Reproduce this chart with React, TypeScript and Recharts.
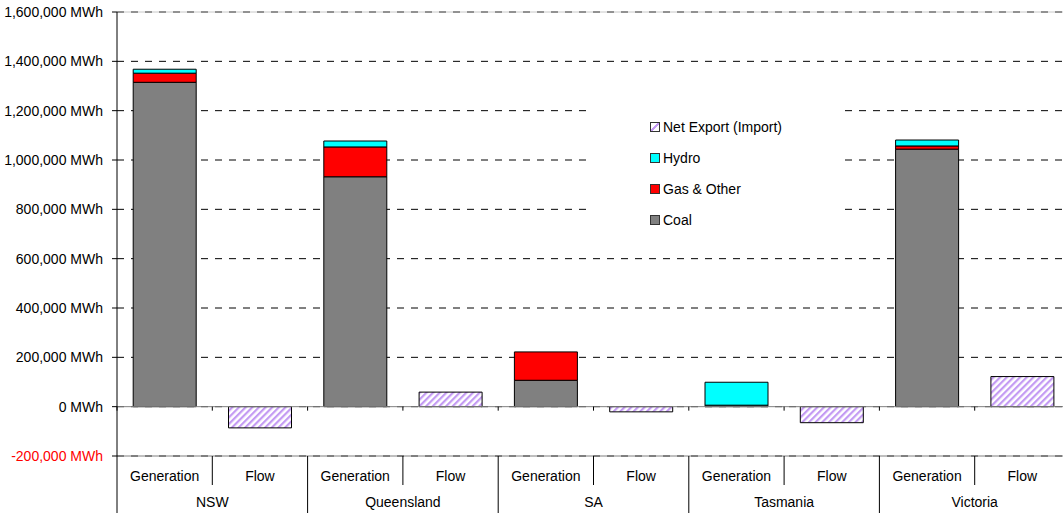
import { BarChart, Bar, XAxis, YAxis, CartesianGrid, Legend, ReferenceLine } from 'recharts'

const regions = ['NSW', 'Queensland', 'SA', 'Tasmania', 'Victoria']
const kinds = ['Generation', 'Flow']

// one value per column: Generation then Flow, for each region in turn
const coal = [1315000, 0, 932000, 0, 107000, 0, 6000, 0, 1044000, 0]
const gasOther = [37000, 0, 121000, 0, 115000, 0, 0, 0, 13000, 0]
const hydro = [16000, 0, 24000, 0, 0, 0, 93000, 0, 24000, 0]
const netExport = [0, -86000, 0, 59000, 0, -21000, 0, -65000, 0, 122000]

const yTicks = [-200000, 0, 200000, 400000, 600000, 800000, 1000000, 1200000, 1400000, 1600000]

const legendItems = [
  { name: 'Net Export (Import)', color: 'hatch' },
  { name: 'Hydro', color: '#00ffff' },
  { name: 'Gas & Other', color: '#ff0000' },
  { name: 'Coal', color: '#808080' },
]

const data = regions.flatMap((region, r) =>
  kinds.map((kind, k) => {
    const i = r * kinds.length + k
    return { region, kind, coal: coal[i], gas: gasOther[i], hydro: hydro[i], net: netExport[i] }
  })
)

const FONT = 'Arial, "Liberation Sans", sans-serif'
const CHART_W = 1070
const CHART_H = 513
const Y_AXIS_W = 117
const TOP = 12
const KIND_AXIS_H = 29
const REGION_AXIS_H = 28
const PLOT_H = CHART_H - TOP - KIND_AXIS_H - REGION_AXIS_H
const BAND = (CHART_W - Y_AXIS_W) / data.length
const REGION_W = BAND * kinds.length
const Y_MIN = yTicks[0]
const Y_MAX = yTicks[yTicks.length - 1]
const ZERO_ABOVE_BOTTOM = (PLOT_H * (0 - Y_MIN)) / (Y_MAX - Y_MIN)

const fmt = (v: number) => `${v.toLocaleString('en-US')} MWh`

const YTick = ({ x, y, payload }: any) => (
  <text
    x={x}
    y={y}
    dy={5}
    textAnchor="end"
    fontSize={14}
    fontFamily={FONT}
    fill={payload.value < 0 ? '#ff0000' : '#000'}
  >
    {fmt(payload.value)}
  </text>
)

const KindTick = (props: any) => {
  const { x, y, payload } = props
  const index = props.index ?? payload.index ?? 0
  const left = x - BAND / 2
  const zeroY = y - ZERO_ABOVE_BOTTOM
  return (
    <g>
      <line x1={left} x2={left} y1={zeroY} y2={zeroY + 4} stroke="#000" />
      {index % kinds.length !== 0 && <line x1={left} x2={left} y1={y} y2={y + KIND_AXIS_H} stroke="#000" />}
      <text x={x} y={y + 25} textAnchor="middle" fontSize={14} fontFamily={FONT} fill="#000">
        {payload.value}
      </text>
    </g>
  )
}

const RegionTick = ({ x, y, payload }: any) => {
  const left = x - REGION_W / 2
  return (
    <g>
      <line x1={left} x2={left} y1={y - KIND_AXIS_H} y2={y + REGION_AXIS_H} stroke="#000" />
      <text x={x} y={y + 22} textAnchor="middle" fontSize={14} fontFamily={FONT} fill="#000">
        {payload.value}
      </text>
    </g>
  )
}

const LegendBox = () => (
  <div
    style={{
      position: 'relative',
      width: 252,
      height: 145,
      background: '#fff',
      fontFamily: FONT,
      fontSize: 14,
      color: '#000',
    }}
  >
    {legendItems.map((item, i) => (
      <div
        key={item.name}
        style={{ position: 'absolute', left: 60, top: 32 + i * 31 - 9, height: 18, display: 'flex', alignItems: 'center' }}
      >
        <span
          style={{
            display: 'inline-block',
            width: 8,
            height: 8,
            border: '1px solid #333',
            marginRight: 3,
            background:
              item.color === 'hatch'
                ? 'linear-gradient(135deg, #fff 38%, #c39af3 38%, #c39af3 62%, #fff 62%)'
                : item.color,
          }}
        />
        <span style={{ whiteSpace: 'nowrap', lineHeight: '18px' }}>{item.name}</span>
      </div>
    ))}
  </div>
)

export default function App() {
  return (
    <div style={{ width: 1063, height: CHART_H, overflow: 'hidden', background: '#fff' }}>
      <style>{'body{margin:0}'}</style>
      <BarChart
        width={CHART_W}
        height={CHART_H}
        data={data}
        margin={{ top: TOP, right: 0, bottom: 0, left: 0 }}
        barCategoryGap="17%"
      >
        <defs>
          <pattern id="hatch" patternUnits="userSpaceOnUse" width="4.7" height="4.7" patternTransform="rotate(45)">
            <rect width="4.7" height="4.7" fill="#fff" />
            <rect width="2.2" height="4.7" fill="#c39af3" />
          </pattern>
        </defs>
        <CartesianGrid vertical={false} stroke="#000" strokeDasharray="7 7" />
        <ReferenceLine y={Y_MAX} stroke="#c8c8c8" />
        <ReferenceLine y={Y_MAX} stroke="#808080" strokeDasharray="7 7" />
        <ReferenceLine y={0} stroke="#808080" />
        <XAxis
          dataKey="kind"
          interval={0}
          height={KIND_AXIS_H}
          tickSize={0}
          tickMargin={0}
          tickLine={false}
          axisLine={{ stroke: '#808080' }}
          tick={<KindTick />}
        />
        <XAxis
          xAxisId="region"
          dataKey="region"
          allowDuplicatedCategory={false}
          interval={0}
          height={REGION_AXIS_H}
          tickSize={0}
          tickMargin={0}
          tickLine={false}
          axisLine={false}
          tick={<RegionTick />}
        />
        <YAxis
          width={Y_AXIS_W}
          domain={[Y_MIN, Y_MAX]}
          ticks={yTicks}
          interval={0}
          tickSize={5}
          tickMargin={9}
          axisLine={{ stroke: '#000' }}
          tickLine={{ stroke: '#000' }}
          tick={<YTick />}
        />
        <Legend
          layout="vertical"
          align="center"
          verticalAlign="middle"
          wrapperStyle={{ left: 590, top: 95, width: 252, height: 145 }}
          content={<LegendBox />}
        />
        <Bar dataKey="coal" stackId="s" fill="#808080" stroke="#000" strokeWidth={1} isAnimationActive={false} />
        <Bar dataKey="gas" stackId="s" fill="#ff0000" stroke="#000" strokeWidth={1} isAnimationActive={false} />
        <Bar dataKey="hydro" stackId="s" fill="#00ffff" stroke="#000" strokeWidth={1} isAnimationActive={false} />
        <Bar dataKey="net" stackId="s" fill="url(#hatch)" stroke="#000" strokeWidth={1} isAnimationActive={false} />
      </BarChart>
    </div>
  )
}
